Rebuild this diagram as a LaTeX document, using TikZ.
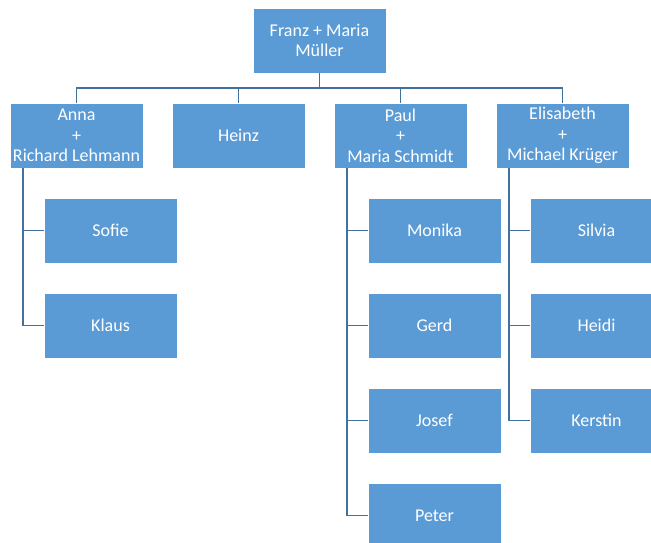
\documentclass[tikz,border=0pt]{standalone}
\usepackage{fontspec}
\setmainfont{Carlito}
\usetikzlibrary{positioning,calc}
\definecolor{boxblue}{HTML}{5B9BD5}
\definecolor{linkblue}{HTML}{41719C}

\begin{document}
\begin{tikzpicture}[
    x = 1pt, y = 1pt,
    node distance = 30pt and 29pt, % gaps between boxes
    font = \fontsize{18}{20.5}\selectfont
    ]

    \tikzset{person/.style={
    draw = white,
    fill = boxblue,
    text = white,
    line width = 0.8pt,
    minimum width = 133pt,
    minimum height = 65pt,
    inner sep = 0pt,
    outer sep = 0pt,
    align = center
    },
    link/.style={draw = linkblue, line width = 1.5pt}}

    \useasboundingbox (0,0) rectangle (651,-542);

    % first generation
    \node[person] (anna) at (76.5,-135.5) {Anna\\+\\Richard Lehmann};
    \node[person] (heinz) [right=of anna] {Heinz};
    \node[person] (paul) [right=of heinz] {Paul\\+\\Maria Schmidt};
    \node[person] (elis) [right=of paul] {Elisabeth\\+\\Michael Krüger};
    \node[person] (fm) [above=30pt of $(heinz.north)!0.5!(paul.north)$] {Franz + Maria\\Müller};

    % children
    \node[person] (sofie) [below=30pt of anna.south west, anchor=north west, xshift=34pt] {Sofie};
    \node[person] (klaus) [below=of sofie] {Klaus};

    \node[person] (monika) [below=30pt of paul.south west, anchor=north west, xshift=34pt] {Monika};
    \node[person] (gerd) [below=of monika] {Gerd};
    \node[person] (josef) [below=of gerd] {Josef};
    \node[person] (peter) [below=of josef] {Peter};

    \node[person] (silvia) [below=30pt of elis.south west, anchor=north west, xshift=34pt] {Silvia};
    \node[person] (heidi) [below=of silvia] {Heidi};
    \node[person] (kerstin) [below=of heidi] {Kerstin};

    \foreach \k in {anna,heinz,paul,elis}
        \draw[link] (fm.south) -- ++(0,-15) -| (\k.north);

    \foreach \k in {sofie,klaus}
        \draw[link] ([xshift=13pt]anna.south west) |- (\k.west);
    \foreach \k in {monika,gerd,josef,peter}
        \draw[link] ([xshift=13pt]paul.south west) |- (\k.west);
    \foreach \k in {silvia,heidi,kerstin}
        \draw[link] ([xshift=13pt]elis.south west) |- (\k.west);
\end{tikzpicture}
\end{document}
